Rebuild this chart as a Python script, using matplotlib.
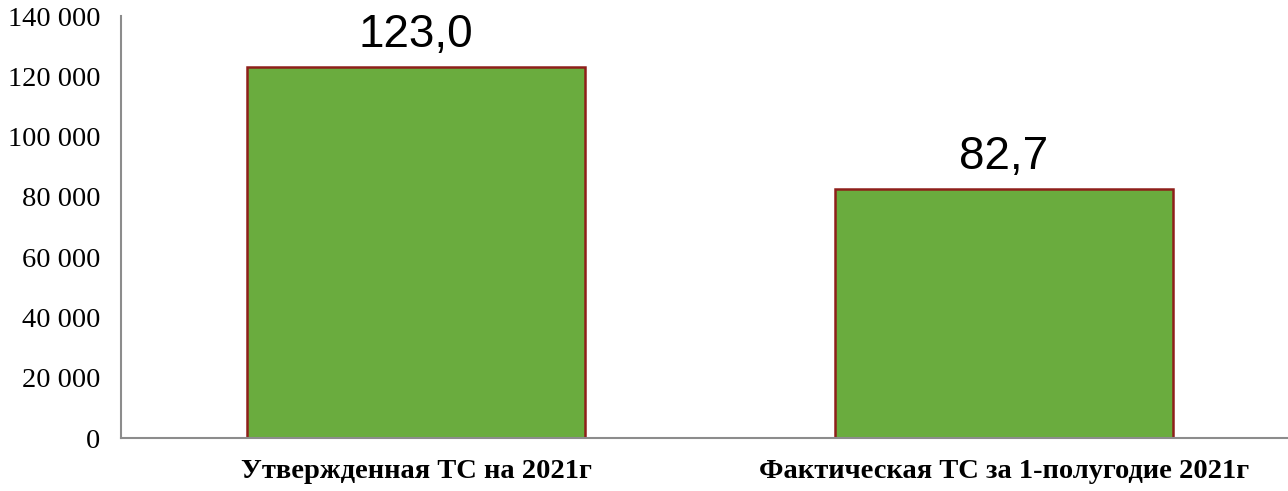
import matplotlib.pyplot as plt
from matplotlib.ticker import FuncFormatter

categories = ['Утвержденная ТС на 2021г', 'Фактическая ТС за 1-полугодие 2021г']
values = [123000, 82700]
labels = ['123,0', '82,7']
y_ticks = [0, 20000, 40000, 60000, 80000, 100000, 120000, 140000]

plt.rcParams['font.family'] = ['Liberation Serif', 'DejaVu Serif']

fig = plt.figure(figsize=(12.88, 4.91), dpi=100)
ax = fig.add_axes([121 / 1288, 53 / 491, 1 - 121 / 1288, 422 / 491])

x = range(len(categories))
bars = ax.bar(x, values, width=0.575, color='#6AAC3E', edgecolor='#8E1F1A', linewidth=1.8)

for bar, lab in zip(bars, labels):
    ax.text(bar.get_x() + bar.get_width() / 2, bar.get_height() + 6600, lab,
            ha='center', va='baseline', fontsize=33, family=['Liberation Sans', 'DejaVu Sans'])

ax.set_ylim(0, 140000)
ax.set_xlim(-0.502, 1.483)
ax.set_yticks(y_ticks)
ax.yaxis.set_major_formatter(FuncFormatter(lambda v, p: f'{int(v):,}'.replace(',', ' ')))
ax.set_xticks(list(x))
ax.set_xticklabels(categories, fontsize=20.5, fontweight='bold')
ax.tick_params(axis='y', length=0, labelsize=20.5, pad=15)
ax.tick_params(axis='x', length=0, pad=15)

for s in ['top', 'right']:
    ax.spines[s].set_visible(False)
for s in ['left', 'bottom']:
    ax.spines[s].set_color('#8C8C8C')
    ax.spines[s].set_linewidth(1.5)

plt.savefig('out.png', dpi=100)
